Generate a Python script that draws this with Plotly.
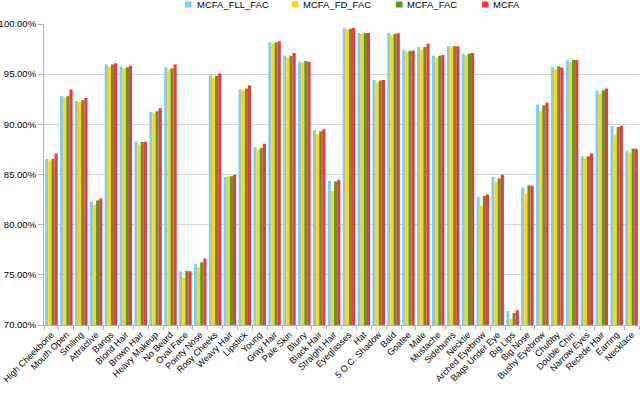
import plotly.graph_objects as go

categories = ["High Cheekbone", "Mouth Open", "Smiling", "Attractive", "Bangs", "Blond Hair",
              "Brown Hair", "Heavy Makeup", "No Beard", "Oval Face", "Pointy Nose", "Rosy Cheeks",
              "Weavy Hair", "Lipstick", "Young", "Gray Hair", "Pale Skin", "Blurry", "Black Hair",
              "Straight Hair", "Eyeglasses", "Hat", "5 O.C. Shadow", "Bald", "Goatee", "Male",
              "Mustache", "Sidebums", "Necktie", "Arched Eyebrow", "Bags Under Eye", "Big Lips",
              "Big Nose", "Bushy Eyebrow", "Chubby", "Double Chin", "Narrow Eyes", "Recede Hair",
              "Earring", "Necklace"]

mcfa_fll_fac = [86.55, 92.83, 92.33, 82.30, 95.97, 95.77, 88.30, 91.23, 95.67, 75.35,
                76.10, 94.90, 84.75, 93.50, 87.75, 98.17, 96.87, 96.27, 89.40, 84.37,
                99.57, 99.10, 94.43, 99.07, 97.40, 97.70, 96.83, 97.77, 97.07, 82.75,
                84.75, 71.40, 83.70, 91.97, 95.70, 96.40, 86.83, 93.37, 89.80, 87.37]
mcfa_fd_fac = [86.40, 92.67, 92.23, 81.97, 95.73, 95.60, 88.00, 91.07, 95.47, 74.70,
               75.75, 94.63, 84.83, 93.40, 87.45, 98.03, 96.67, 96.20, 89.00, 83.35,
               99.47, 99.00, 94.17, 98.90, 97.22, 97.43, 96.63, 97.70, 96.90, 81.87,
               84.30, 70.60, 83.10, 91.33, 95.50, 96.17, 86.70, 93.03, 88.97, 87.20]
mcfa_fac = [86.55, 92.80, 92.40, 82.40, 95.97, 95.70, 88.25, 91.30, 95.60, 75.40,
            76.25, 94.83, 84.83, 93.57, 87.65, 98.17, 96.83, 96.30, 89.30, 84.30,
            99.53, 99.10, 94.37, 99.03, 97.30, 97.70, 96.83, 97.80, 97.07, 82.87,
            84.63, 71.20, 83.93, 91.90, 95.80, 96.40, 86.83, 93.40, 89.73, 87.60]
mcfa = [87.10, 93.47, 92.63, 82.62, 96.10, 95.83, 88.27, 91.60, 95.97, 75.35,
        76.62, 95.07, 84.97, 93.90, 88.07, 98.27, 97.10, 96.23, 89.50, 84.47,
        99.60, 99.10, 94.43, 99.07, 97.35, 98.03, 96.90, 97.77, 97.10, 83.00,
        84.97, 71.47, 83.87, 92.17, 95.67, 96.40, 87.10, 93.57, 89.87, 87.53]

series_names = ["MCFA_FLL_FAC", "MCFA_FD_FAC", "MCFA_FAC", "MCFA"]
series_values = [mcfa_fll_fac, mcfa_fd_fac, mcfa_fac, mcfa]
series_colors = ["#83CAFF", "#FFD320", "#579D1C", "#FF3333"]

W, H = 640, 393
ML, MR, MT, MB = 44, 1, 24, 68
PW, PH = W - ML - MR, H - MT - MB

fig = go.Figure()
for name, vals, color in zip(series_names, series_values, series_colors):
    fig.add_trace(go.Bar(x=categories, y=vals, name=name, showlegend=False,
                         marker=dict(color=color, line=dict(width=0))))

font = "Liberation Sans, Arial, sans-serif"

# manual legend (squares + labels) placed in the top margin
legend_square_px = [185, 292, 396, 482]
legend_text_px = [195, 301, 405, 491]
sq_top, sq_bot = 1.5, 7.5
shapes = []
annotations = []
for name, color, sx, tx in zip(series_names, series_colors, legend_square_px, legend_text_px):
    shapes.append(dict(type="rect", xref="paper", yref="paper",
                       x0=(sx - ML) / PW, x1=(sx + 6.5 - ML) / PW,
                       y0=(H - MB - sq_bot) / PH, y1=(H - MB - sq_top) / PH,
                       fillcolor=color, line=dict(width=0)))
    annotations.append(dict(text=name, xref="paper", yref="paper",
                            x=(tx - ML) / PW, y=(H - MB - 4.5) / PH,
                            xanchor="left", yanchor="middle", showarrow=False,
                            font=dict(family=font, size=9.5, color="#000000")))

fig.update_layout(
    width=W, height=H,
    margin=dict(l=ML, r=MR, t=MT, b=MB, autoexpand=False),
    paper_bgcolor="white", plot_bgcolor="white",
    barmode="group", bargap=0.16, bargroupgap=0.0,
    font=dict(family=font, size=9.5, color="#000000"),
    showlegend=False,
    shapes=shapes, annotations=annotations,
    xaxis=dict(type="category", tickangle=-45, tickson="boundaries", automargin=False,
               ticks="outside", ticklen=4, tickcolor="#b3b3b3",
               showline=True, linecolor="#b3b3b3", linewidth=1,
               showgrid=False, tickfont=dict(family=font, size=9, color="#000000")),
    yaxis=dict(range=[70, 100], dtick=5, tickformat=".2f", ticksuffix="%", automargin=False,
               ticks="outside", ticklen=5, tickcolor="#b3b3b3",
               showline=True, linecolor="#b3b3b3", linewidth=1,
               showgrid=True, gridcolor="#d4d4d4", gridwidth=1, zeroline=False,
               tickfont=dict(family=font, size=9.5, color="#000000")),
)

fig.write_html("out.html", config={"displayModeBar": False},
               post_script="document.body.style.margin='0';document.body.style.padding='0';")
